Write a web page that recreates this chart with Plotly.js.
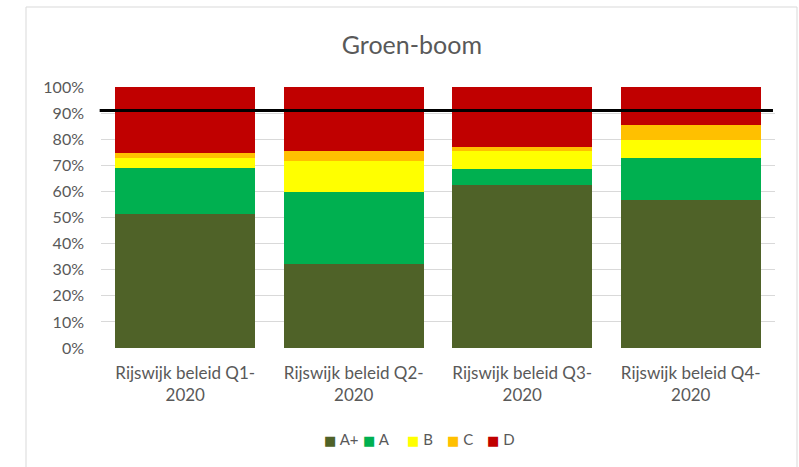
<!DOCTYPE html>
<html>
<head>
<meta charset="utf-8">
<script src="https://cdn.plot.ly/plotly-3.0.1.min.js"></script>
<style>
  html, body { margin: 0; padding: 0; background: #ffffff; }
  #chart { width: 799px; height: 467px; }
</style>
</head>
<body>
<div id="chart"></div>
<script>
// Categories and stacked shares (fractions of 1)
const categories = [
    'Rijswijk beleid Q1-<br>2020',
    'Rijswijk beleid Q2-<br>2020',
    'Rijswijk beleid Q3-<br>2020',
    'Rijswijk beleid Q4-<br>2020'
];
const seriesNames = ['A+', 'A', 'B', 'C', 'D'];
const valuesAPlus = [0.512, 0.321, 0.623, 0.567];
const valuesA = [0.176, 0.278, 0.061, 0.162];
const valuesB = [0.041, 0.117, 0.071, 0.067];
const valuesC = [0.020, 0.039, 0.017, 0.059];
const valuesD = [0.251, 0.245, 0.228, 0.145];
const seriesColors = ['#4f6228', '#00b050', '#ffff00', '#ffc000', '#c00000'];
const targetLine = 0.91;

const fontFamily = 'Lato, "Open Sans", sans-serif';
const textGray = '#595959';

const allValues = [valuesAPlus, valuesA, valuesB, valuesC, valuesD];

const data = allValues.map((vals, i) => ({
    type: 'bar',
    name: seriesNames[i],
    x: categories,
    y: vals,
    marker: { color: seriesColors[i], line: { width: 0 } },
    hoverinfo: 'skip'
}));

// Compact legend (Excel style): coloured square + name, built from the series arrays
const legendX = [322, 361, 405, 445, 485];
const legendItems = seriesNames.map((name, i) => ({
    xref: 'paper', yref: 'paper',
    x: (legendX[i] - 101) / 674,
    y: (348 - 439) / 261,
    xanchor: 'left', yanchor: 'middle',
    showarrow: false,
    text: '<span style="color:' + seriesColors[i] + ';font-family:DejaVu Sans;font-size:13px">■</span> ' + name,
    font: { size: 15, color: textGray, family: fontFamily }
}));

const layout = {
    width: 799,
    height: 467,
    barmode: 'stack',
    bargap: 0.17,
    paper_bgcolor: '#ffffff',
    plot_bgcolor: '#ffffff',
    margin: { l: 101, r: 24, t: 87, b: 119 },
    font: { family: fontFamily, color: textGray },
    title: {
        text: 'Groen-boom',
        font: { size: 25, color: textGray, family: fontFamily },
        xref: 'container',
        x: 0.5155,
        xanchor: 'center',
        yref: 'container',
        y: 1 - 45 / 467,
        yanchor: 'middle'
    },
    xaxis: {
        type: 'category',
        showgrid: false,
        zeroline: false,
        showline: false,
        ticks: '',
        ticklabelstandoff: 13,
        tickfont: { size: 17, color: textGray }
    },
    yaxis: {
        range: [0, 1],
        dtick: 0.1,
        tickformat: '.0%',
        showgrid: true,
        gridcolor: '#d9d9d9',
        gridwidth: 1,
        zeroline: false,
        showline: false,
        ticks: '',
        ticklabelstandoff: 16,
        tickfont: { size: 16, color: textGray }
    },
    showlegend: false,
    annotations: legendItems,
    shapes: [
        {
            // chart area border
            type: 'rect',
            xref: 'paper', yref: 'paper',
            x0: (26 - 101) / 674, x1: (797 - 101) / 674,
            y0: -1, y1: (348 - 7) / 261,
            line: { color: '#d9d9d9', width: 1 },
            fillcolor: 'rgba(0,0,0,0)',
            layer: 'below'
        },
        {
            // target line
            type: 'line',
            xref: 'paper', yref: 'y',
            x0: -0.002, x1: 0.997,
            y0: targetLine, y1: targetLine,
            line: { color: '#000000', width: 3 }
        }
    ]
};

Plotly.newPlot('chart', data, layout, { displayModeBar: false, staticPlot: true });
</script>
</body>
</html>
